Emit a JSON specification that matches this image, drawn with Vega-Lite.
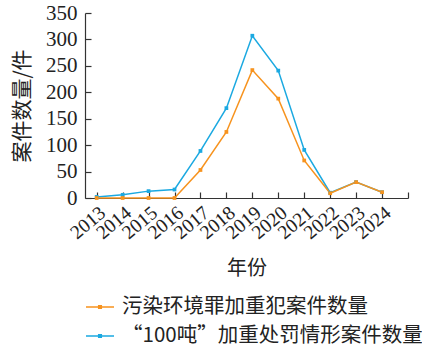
{
  "$schema": "https://vega.github.io/schema/vega-lite/v6.json",
  "width": 323,
  "height": 185,
  "autosize": "none",
  "padding": {"left": 85, "top": 13, "right": 14, "bottom": 153},
  "background": "white",
  "config": {
    "view": {"stroke": null},
    "axis": {"domainColor": "#333", "tickColor": "#333", "labelColor": "#222", "titleColor": "#222", "grid": false, "domainWidth": 1.2, "tickWidth": 1.2}
  },
  "data": {
    "values": [
      {"year": 2013, "series": "“100吨”加重处罚情形案件数量", "count": 2},
      {"year": 2014, "series": "“100吨”加重处罚情形案件数量", "count": 6},
      {"year": 2015, "series": "“100吨”加重处罚情形案件数量", "count": 13},
      {"year": 2016, "series": "“100吨”加重处罚情形案件数量", "count": 16},
      {"year": 2017, "series": "“100吨”加重处罚情形案件数量", "count": 89},
      {"year": 2018, "series": "“100吨”加重处罚情形案件数量", "count": 170},
      {"year": 2019, "series": "“100吨”加重处罚情形案件数量", "count": 307},
      {"year": 2020, "series": "“100吨”加重处罚情形案件数量", "count": 241},
      {"year": 2021, "series": "“100吨”加重处罚情形案件数量", "count": 91},
      {"year": 2022, "series": "“100吨”加重处罚情形案件数量", "count": 10},
      {"year": 2023, "series": "“100吨”加重处罚情形案件数量", "count": 30},
      {"year": 2024, "series": "“100吨”加重处罚情形案件数量", "count": 11},
      {"year": 2013, "series": "污染环境罪加重犯案件数量", "count": 0},
      {"year": 2014, "series": "污染环境罪加重犯案件数量", "count": 0},
      {"year": 2015, "series": "污染环境罪加重犯案件数量", "count": 0},
      {"year": 2016, "series": "污染环境罪加重犯案件数量", "count": 0},
      {"year": 2017, "series": "污染环境罪加重犯案件数量", "count": 53},
      {"year": 2018, "series": "污染环境罪加重犯案件数量", "count": 125},
      {"year": 2019, "series": "污染环境罪加重犯案件数量", "count": 242},
      {"year": 2020, "series": "污染环境罪加重犯案件数量", "count": 188},
      {"year": 2021, "series": "污染环境罪加重犯案件数量", "count": 71},
      {"year": 2022, "series": "污染环境罪加重犯案件数量", "count": 9},
      {"year": 2023, "series": "污染环境罪加重犯案件数量", "count": 30},
      {"year": 2024, "series": "污染环境罪加重犯案件数量", "count": 11}
    ]
  },
  "encoding": {
    "x": {
      "field": "year",
      "type": "quantitative",
      "scale": {"domain": [2012.55, 2025], "nice": false, "zero": false},
      "axis": {
        "values": [2013, 2014, 2015, 2016, 2017, 2018, 2019, 2020, 2021, 2022, 2023, 2024, 2025],
        "labelExpr": "datum.value == 2025 ? '' : datum.value",
        "labelOverlap": false,
        "labelAngle": -40,
        "labelFont": "Liberation Serif",
        "labelFontSize": 19.5,
        "labelPadding": 11,
        "tickSize": -6,
        "title": "年份",
        "titleFont": "Noto Sans CJK SC",
        "titleFontSize": 20,
        "titleFontWeight": "normal",
        "titleY": 70,
        "titleBaseline": "middle"
      }
    },
    "y": {
      "field": "count",
      "type": "quantitative",
      "scale": {"domain": [0, 350], "nice": false},
      "axis": {
        "values": [0, 50, 100, 150, 200, 250, 300, 350],
        "labelOverlap": false,
        "labelFont": "Liberation Serif",
        "labelFontSize": 21,
        "labelPadding": 14,
        "tickSize": -6,
        "title": "案件数量/件",
        "titleFont": "Noto Sans CJK SC",
        "titleFontSize": 21,
        "titleFontWeight": "normal",
        "titleX": -63,
        "titleBaseline": "middle"
      }
    },
    "color": {
      "field": "series",
      "type": "nominal",
      "scale": {
        "domain": ["污染环境罪加重犯案件数量", "“100吨”加重处罚情形案件数量"],
        "range": ["#f7931e", "#1ba9e1"]
      },
      "legend": {
        "title": null,
        "orient": "none",
        "legendX": 0,
        "legendY": 279,
        "labelFont": "Noto Sans CJK SC",
        "labelFontSize": 20.5,
        "labelColor": "#222",
        "labelLimit": 400,
        "labelOffset": 7,
        "rowPadding": 3,
        "symbolType": "M-1,0H1M-0.1,-0.1H0.1V0.1H-0.1Z",
        "symbolSize": 784,
        "symbolStrokeWidth": 1.3,
        "encode": {
          "symbols": {
            "update": {
              "fill": {"scale": "color", "field": "value"},
              "stroke": {"scale": "color", "field": "value"},
              "opacity": {"value": 1}
            }
          }
        }
      }
    }
  },
  "layer": [
    {"mark": {"type": "line", "strokeWidth": 1.5}},
    {"mark": {"type": "point", "shape": "square", "filled": true, "size": 14, "opacity": 1}}
  ]
}
